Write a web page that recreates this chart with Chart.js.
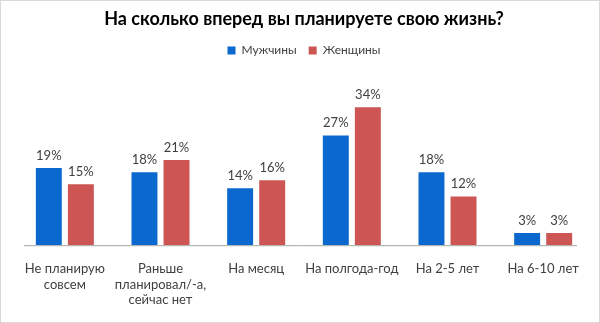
<!DOCTYPE html>
<html lang="ru">
<head>
    <meta charset="UTF-8">
    <title>На сколько вперед вы планируете свою жизнь?</title>
    <style>
        html, body {
            margin: 0;
            padding: 0;
            background: #fff;
        }
        .frame {
            width: 598px;
            height: 321px;
            border: 1px solid #d9d9d9;
            position: relative;
        }
    </style>
</head>
<body>
    <div class="frame">
        <canvas id="chart" width="598" height="321"></canvas>
    </div>

    <script src="https://cdn.jsdelivr.net/npm/chart.js"></script>
    <script>
        const categories = [
            ['Не планирую', 'совсем'],
            ['Раньше', 'планировал/-а,', 'сейчас нет'],
            'На месяц',
            'На полгода-год',
            'На 2-5 лет',
            'На 6-10 лет'
        ];
        const men = [19, 18, 14, 27, 18, 3];
        const women = [15, 21, 16, 34, 12, 3];

        const textColor = '#404040';
        const fontFamily = 'Lato, "Open Sans", sans-serif';

        // подписи значений над столбцами
        const valueLabels = {
            id: 'valueLabels',
            afterDatasetsDraw(chart) {
                const ctx = chart.ctx;
                ctx.save();
                ctx.font = '13px ' + fontFamily;
                ctx.fillStyle = textColor;
                ctx.textAlign = 'center';
                ctx.textBaseline = 'bottom';
                chart.data.datasets.forEach((ds, i) => {
                    chart.getDatasetMeta(i).data.forEach((bar, j) => {
                        ctx.fillText(ds.data[j] + '%', bar.x, bar.y - 6);
                    });
                });
                ctx.restore();
            }
        };

        // линия оси немного короче области графика, как в оригинале
        const axisLine = {
            id: 'axisLine',
            afterDatasetsDraw(chart) {
                const a = chart.chartArea;
                const ctx = chart.ctx;
                ctx.save();
                ctx.strokeStyle = '#a6a6a6';
                ctx.lineWidth = 1;
                ctx.beginPath();
                ctx.moveTo(a.left + 7, a.bottom + 0.5);
                ctx.lineTo(a.right - 14, a.bottom + 0.5);
                ctx.stroke();
                ctx.restore();
            }
        };

        new Chart(document.getElementById('chart').getContext('2d'), {
            type: 'bar',
            data: {
                labels: categories,
                datasets: [{
                    label: 'Мужчины',
                    data: men,
                    backgroundColor: '#0a68cf',
                    categoryPercentage: 0.67,
                    barPercentage: 0.81
                }, {
                    label: 'Женщины',
                    data: women,
                    backgroundColor: '#cd5553',
                    categoryPercentage: 0.67,
                    barPercentage: 0.81
                }]
            },
            options: {
                responsive: false,
                animation: false,
                layout: {
                    padding: { left: 16, right: 8, top: 0, bottom: 6 }
                },
                plugins: {
                    title: {
                        display: true,
                        text: 'На сколько вперед вы планируете свою жизнь?',
                        color: '#000',
                        font: { family: fontFamily, size: 18, weight: 'bold' },
                        padding: { top: 7, bottom: 3 }
                    },
                    legend: {
                        labels: {
                            color: textColor,
                            font: { family: fontFamily, size: 12 },
                            boxWidth: 8,
                            boxHeight: 8,
                            padding: 12
                        }
                    },
                    tooltip: { enabled: false }
                },
                scales: {
                    x: {
                        grid: { display: false },
                        border: { display: false },
                        ticks: {
                            color: textColor,
                            font: { family: fontFamily, size: 13 },
                            maxRotation: 0,
                            autoSkip: false,
                            padding: 8
                        }
                    },
                    y: {
                        display: false,
                        min: 0,
                        max: 44
                    }
                }
            },
            plugins: [valueLabels, axisLine]
        });
    </script>
</body>
</html>
